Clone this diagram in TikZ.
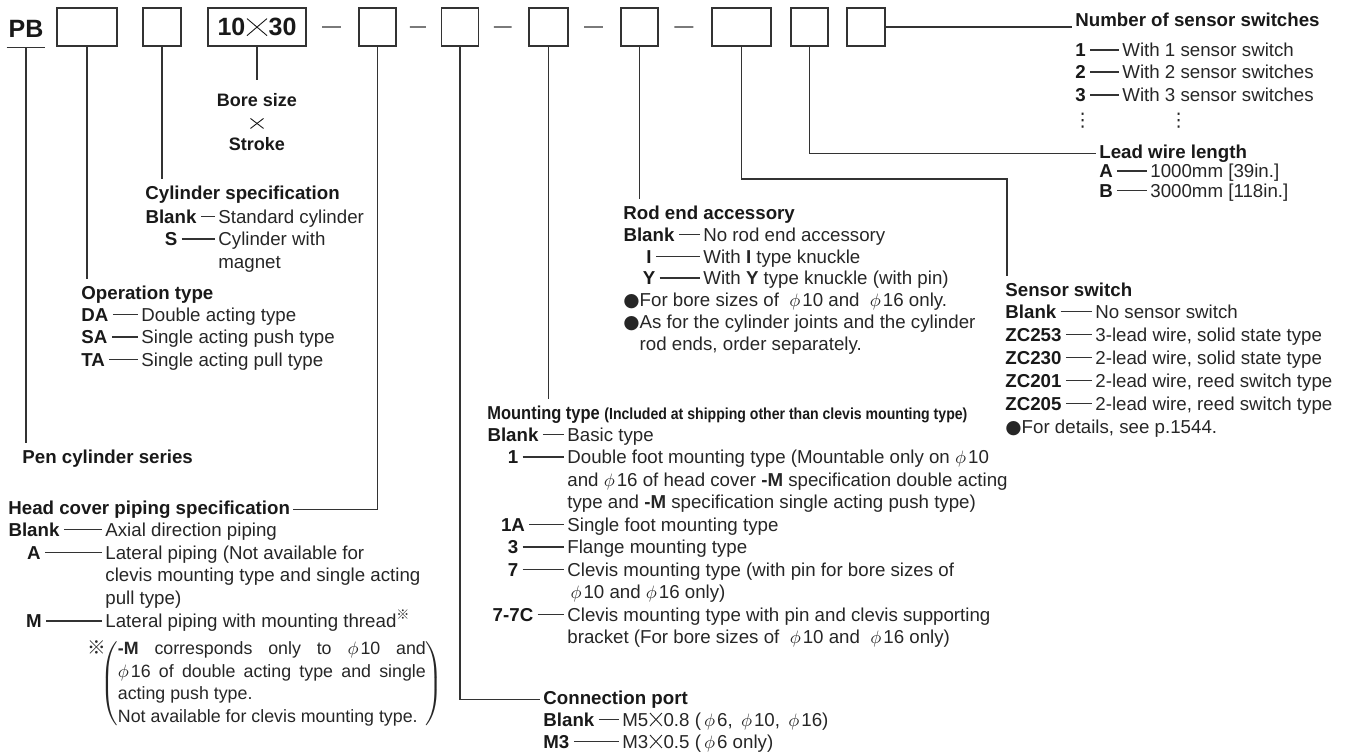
\documentclass[tikz,border=0pt]{standalone}
\usepackage{fontspec}
\usepackage{pict2e}
\setmainfont{Liberation Sans}
\newfontfamily\cjk{Noto Sans CJK JP}
\newfontfamily\dejavu{DejaVu Sans}
\newfontfamily\narrowsf[FakeStretch=0.88]{Liberation Sans}
\usetikzlibrary{calc}
\newcommand\bodysize{\fontsize{9.35}{11.3}\selectfont}
% thin cross used as multiplication sign
\newcommand\crs[2]{\kern.8pt{\setlength\unitlength{1pt}\linethickness{.45pt}\begin{picture}(#1,#2)\Line(0,0)(#1,#2)\Line(0,#2)(#1,0)\end{picture}}\kern.8pt}
\newcommand\dm[1]{$\phi$\kern1pt#1}
% lines of one entry, baseline on the first line
\newcommand\rowtext[1]{\begin{tabular}[t]{@{}l@{}}#1\end{tabular}}
\begin{document}
\begin{tikzpicture}[x=0.5pt, y=-0.5pt,
  box/.style={draw=black!80, line width=0.6pt, minimum height=19pt, inner sep=0pt, text=black!90},
  link/.style={draw=black!80, line width=0.6pt},
  head/.style={font=\bodysize\bfseries, text=black!90, anchor=base west, inner xsep=1.5pt, inner ysep=3pt},
  key/.style={font=\bodysize\bfseries, text=black!90, anchor=base, inner xsep=2pt, inner ysep=1pt},
  keyl/.style={key, anchor=base west},
  txt/.style={font=\bodysize, text=black!85, anchor=base west, inner xsep=1.5pt, inner ysep=1pt}]
  \useasboundingbox (0,0) rectangle (1350,751);
  % code boxes
  \node[font=\fontsize{12.5}{14}\selectfont\bfseries, text=black!90, anchor=base, inner xsep=0.75pt, inner ysep=5pt] (pb) at (26,37) {PB};
  \node[box, minimum width=30pt] (b1) at (87,27) {};
  \node[box, minimum width=19pt] (b2) at (162,27) {};
  \node[box, minimum width=49pt, font=\fontsize{12.5}{14}\selectfont\bfseries] (b3) at (257,27) {10\crs{10}{8.5}30};
  \node[box, minimum width=18.5pt] (bA) at (377.5,27) {};
  \node[box, minimum width=18.5pt] (bB) at (460,27) {};
  \node[box, minimum width=19.5pt] (bC) at (548.5,27) {};
  \node[box, minimum width=18.5pt] (bD) at (639.5,27) {};
  \node[box, minimum width=29.5pt] (bE) at (741.5,27) {};
  \node[box, minimum width=18.5pt] (bF) at (809.5,27) {};
  \node[box, minimum width=19pt] (bG) at (866,27) {};
  \foreach \a/\b in {b3/bA, bA/bB, bB/bC, bC/bD, bD/bE}
    \draw[link] ($(\a.east)!.3!(\b.west)$) -- ($(\a.east)!.66!(\b.west)$);

  % bore size x stroke
  \node[font=\fontsize{9}{11}\selectfont\bfseries, text=black!90, align=center, anchor=north, inner ysep=6.5pt] (bore) at (257,80) {Bore size\\\crs{6.5}{5}\\Stroke};
  \draw[link] (b3.south) -- (bore.north);

  % pen cylinder series
  \node[head] (pc) at (19,463) {Pen cylinder series};
  \draw[link] (pb.south west) -- (pb.south east);
  \draw[link] (pb.south) -- (pb.south |- pc.north);

  % operation type
  \node[head] (op) at (78,299) {Operation type};
  \draw[link] (b1.south) -- (b1.south |- op.north);
  \foreach \k/\y/\t [count=\i] in {DA/321/{Double acting type}, SA/343.5/{Single acting push type}, TA/366/{Single acting pull type}}{
    \node[keyl] (opk\i) at (77,\y) {\k};
    \node[txt] (opt\i) at (138,\y) {\rowtext{\t}};
    \draw[link] (opk\i.east) -- (opk\i.east -| opt\i.west);
  }

  % cylinder specification
  \node[head] (cs) at (142,199) {Cylinder specification};
  \draw[link] (b2.south) -- (b2.south |- cs.north);
  \foreach \k/\y/\t [count=\i] in {Blank/223/{Standard cylinder}, S/245.5/{Cylinder with\\magnet}}{
    \node[key] (csk\i) at (171,\y) {\k};
    \node[txt] (cst\i) at (215,\y) {\rowtext{\t}};
    \draw[link] (csk\i.east) -- (csk\i.east -| cst\i.west);
  }

  % head cover piping specification
  \node[head] (hc) at (5,514) {Head cover piping specification};
  \draw[link] (bA.south) |- (hc.east);
  \foreach \k/\y/\t [count=\i] in {Blank/536/{Axial direction piping}, A/559/{Lateral piping (Not available for\\clevis mounting type and single acting\\pull type)}, M/627.5/{Lateral piping with mounting thread\textsuperscript{\cjk ※}}}{
    \node[key] (hck\i) at (34,\y) {\k};
    \node[txt] (hct\i) at (102,\y) {\rowtext{\t}};
    \draw[link] (hck\i.east) -- (hck\i.east -| hct\i.west);
  }
  \node[txt] (hcm) at (84,654) {\cjk ※};
  \node[anchor=north west, inner sep=0pt, font=\fontsize{8.9}{11.4}\selectfont, text=black!85] (hcn) at (100,641)
    {$\left(\vcenter{\hbox{\parbox{154pt}{{\bfseries -M} corresponds only to \dm{10} and\linebreak \dm{16} of double acting type and single\linebreak acting push type.\\Not available for clevis mounting type.}}}\right)$};

  % connection port
  \node[head] (cp) at (540,704) {Connection port};
  \draw[link] (bB.south) |- (cp.west);
  \foreach \k/\y/\t [count=\i] in {Blank/726/{M5\crs{6}{6.5}0.8 (\,\dm{6}, \,\dm{10}, \,\dm{16})}, M3/748/{M3\crs{6}{6.5}0.5 (\,\dm{6} only)}}{
    \node[keyl] (cpk\i) at (539,\y) {\k};
    \node[txt] (cpt\i) at (619,\y) {\rowtext{\t}};
    \draw[link] (cpk\i.east) -- (cpk\i.east -| cpt\i.west);
  }

  % mounting type
  \node[head, font=\bodysize\narrowsf\bfseries] (mt) at (484,419) {Mounting type {\fontsize{8}{10}\selectfont(Included at shipping other than clevis mounting type)}};
  \draw[link] (bC.south) -- (bC.south |- mt.north);
  \foreach \k/\y/\t [count=\i] in {Blank/441/{Basic type},
      1/463.5/{Double foot mounting type (Mountable only on \dm{10}\\and \dm{16} of head cover {\bfseries -M} specification double acting\\type and {\bfseries -M} specification single acting push type)},
      1A/531/{Single foot mounting type}, 3/553.5/{Flange mounting type},
      7/576/{Clevis mounting type (with pin for bore sizes of\\\,\dm{10} and \dm{16} only)},
      7-7C/621/{Clevis mounting type with pin and clevis supporting\\bracket (For bore sizes of \ \dm{10} and \ \dm{16} only)}}{
    \node[key] (mtk\i) at (513,\y) {\k};
    \node[txt] (mtt\i) at (564,\y) {\rowtext{\t}};
    \draw[link] (mtk\i.east) -- (mtk\i.east -| mtt\i.west);
  }

  % rod end accessory
  \node[head] (re) at (620,219) {Rod end accessory};
  \draw[link] (bD.south) -- (bD.south |- re.north);
  \foreach \k/\y/\t [count=\i] in {Blank/241/{No rod end accessory}, I/263/{With {\bfseries I} type knuckle}, Y/284.5/{With {\bfseries Y} type knuckle (with pin)}}{
    \node[key] (rek\i) at (649,\y) {\k};
    \node[txt] (ret\i) at (700,\y) {\rowtext{\t}};
    \draw[link] (rek\i.east) -- (rek\i.east -| ret\i.west);
  }
  \node[txt] (ren1) at (620,306) {{\dejavu ●}For bore sizes of \ \dm{10} and \ \dm{16} only.};
  \node[txt] (ren2) at (620,328) {\rowtext{{\dejavu ●}As for the cylinder joints and the cylinder\\\hphantom{\dejavu ●}rod ends, order separately.}};

  % sensor switch
  \coordinate (ec) at (1007,179);
  \node[head] (ss) at (1002,296) {Sensor switch};
  \draw[link] (bE.south) |- (ec) -- (ec |- ss.north);
  \foreach \k/\y/\t [count=\i] in {Blank/318/{No sensor switch}, ZC253/341/{3-lead wire, solid state type}, ZC230/364/{2-lead wire, solid state type}, ZC201/387/{2-lead wire, reed switch type}, ZC205/410/{2-lead wire, reed switch type}}{
    \node[keyl] (ssk\i) at (1001,\y) {\k};
    \node[txt] (sst\i) at (1092,\y) {\rowtext{\t}};
    \draw[link] (ssk\i.east) -- (ssk\i.east -| sst\i.west);
  }
  \node[txt] (ssn) at (1002,433.5) {{\dejavu ●}For details, see p.1544.};

  % lead wire length
  \node[head] (lw) at (1096,158) {Lead wire length};
  \draw[link] (bF.south) |- (lw.west);
  \foreach \k/\y/\t [count=\i] in {A/177.5/{1000mm [39in.]}, B/197/{3000mm [118in.]}}{
    \node[keyl] (lwk\i) at (1095,\y) {\k};
    \node[txt] (lwt\i) at (1147,\y) {\rowtext{\t}};
    \draw[link] (lwk\i.east) -- (lwk\i.east -| lwt\i.west);
  }

  % number of sensor switches
  \node[head] (ns) at (1072,26.5) {Number of sensor switches};
  \draw[link] (bG.east) -- (bG.east -| ns.west);
  \foreach \k/\y/\t [count=\i] in {1/56.5/{With 1 sensor switch}, 2/78.5/{With 2 sensor switches}, 3/101.5/{With 3 sensor switches}}{
    \node[keyl] (nsk\i) at (1071,\y) {\k};
    \node[txt] (nst\i) at (1119,\y) {\rowtext{\t}};
    \draw[link] (nsk\i.east) -- (nsk\i.east -| nst\i.west);
  }
  \node[txt, inner sep=0pt] (nsd1) at (1073,126) {\dejavu ⋮};
  \node[txt, inner sep=0pt] (nsd2) at (1169,126) {\dejavu ⋮};
\end{tikzpicture}
\end{document}
